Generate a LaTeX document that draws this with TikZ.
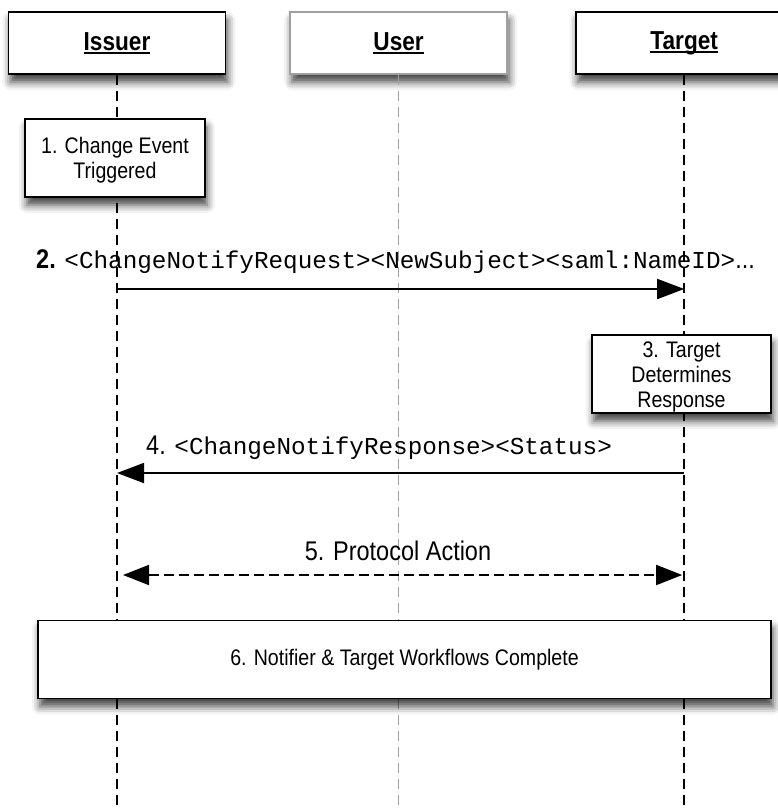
\documentclass[tikz,border=0pt]{standalone}
\usepackage{fontspec}
\setmainfont{Liberation Sans}[FakeStretch=0.87]
\setmonofont{Liberation Mono}
\usetikzlibrary{arrows.meta,positioning,shadows.blur}
\definecolor{userGray}{HTML}{A0A0A0}
\newcommand{\msgcode}{\fontsize{24.3}{28}\selectfont\ttfamily}
% underline that sits just under the baseline, through descenders
\newcommand{\headline}[1]{\setbox0\hbox{#1}\rlap{\rule[-3.5pt]{\wd0}{1.7pt}}\box0}
% lower multi-line text inside its box without changing the box
\newcommand{\lowered}[2]{\raisebox{-#1}[\height][\depth]{\begin{tabular}{@{}c@{}}#2\end{tabular}}}
\tikzset{
  boxshadow/.style={blur shadow={shadow xshift=2pt, shadow yshift=-8pt,
    shadow blur radius=8pt, shadow opacity=75}},
  actor/.style={draw=black, line width=1.6pt, fill=white, boxshadow,
    minimum width=217pt, minimum height=62pt,
    font=\fontsize{26}{30}\selectfont\bfseries},
  stepbox/.style={draw=black, line width=1.6pt, fill=white, boxshadow,
    align=center, minimum height=78pt, inner sep=0pt,
    font=\fontsize{22.5}{25}\selectfont},
  lifeline/.style={line width=1.5pt, dash pattern=on 10pt off 6pt, draw=black},
  msg/.style={-{Triangle[length=27pt, width=20pt]}, line width=1.8pt},
  replymsg/.style={{Triangle[length=27pt, width=20pt]}-, line width=1.8pt},
  actionmsg/.style={{Triangle[length=26pt, width=20pt]}-{Triangle[length=26pt, width=20pt]},
    line width=1.8pt, dash pattern=on 10pt off 5pt, shorten <=6pt, shorten >=2pt},
  msglabel/.style={inner sep=0pt, anchor=base west, font=\fontsize{27}{30}\selectfont}
}

\begin{document}
\begin{tikzpicture}[x=1pt, y=-1pt]
  \useasboundingbox (0,0) rectangle (777,809);

  % participants
  \node[actor] (issuer) at (117,43) {\headline{Issuer}};
  \node[actor, draw=userGray, right=63pt of issuer] (user) {\headline{User}};
  \node[actor, right=67pt of user] (target) {\headline{Target}};

  \coordinate (bottom) at (0,809);
  \draw[lifeline] (issuer.south) -- (issuer.south |- bottom);
  \draw[lifeline, draw=userGray] (user.south) -- (user.south |- bottom);
  \draw[lifeline] (target.south) -- (target.south |- bottom);

  % steps
  \node[stepbox, minimum width=180pt] (trigger) at (115,158) {\lowered{3pt}{1. Change Event\\Triggered}};
  \node[stepbox, minimum width=179pt] (decide) at (681.5,374) {\lowered{3pt}{3. Target\\Determines\\Response}};
  \node[stepbox, minimum width=733pt] (done) at (404.5,659.5) {6. Notifier \& Target Workflows Complete};

  % messages
  \node[msglabel] (req) at (36,268) {\textbf{2.} {\msgcode <ChangeNotifyRequest><NewSubject><saml:NameID>}...};
  \coordinate (m2) at (0,289);
  \draw[msg] (issuer.south |- m2) -- (target.south |- m2);

  \node[msglabel] (resp) at (146,454) {4. {\msgcode <ChangeNotifyResponse><Status>}};
  \coordinate (m4) at (0,473);
  \draw[replymsg] (issuer.south |- m4) -- (target.south |- m4);

  \node[msglabel, anchor=base] (action) at (398,560) {5. Protocol Action};
  \coordinate (m5) at (0,575);
  \draw[actionmsg] (issuer.south |- m5) -- (target.south |- m5);
\end{tikzpicture}
\end{document}
